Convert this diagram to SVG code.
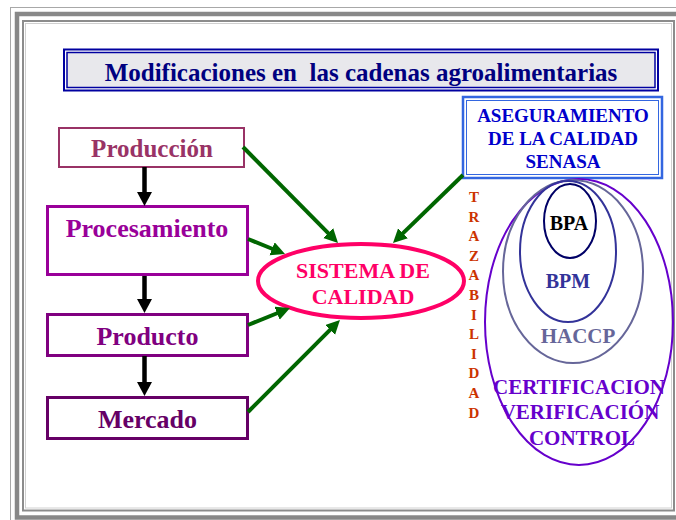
<svg xmlns="http://www.w3.org/2000/svg" width="676" height="520" viewBox="0 0 676 520">
<style>
  text { font-family: "Liberation Serif", "Times New Roman", serif; font-weight: bold; text-anchor: middle; }
  .box { fill: #ffffff; }
  .green { stroke: #006600; stroke-width: 4; fill: none; marker-end: url(#gh); }
  .black { stroke: #000000; stroke-width: 4.5; fill: none; }
  .traz { fill: #CC3300; font-size: 15px; }
</style>
<defs>
  <marker id="gh" markerUnits="userSpaceOnUse" markerWidth="16" markerHeight="16" refX="6" refY="7" orient="auto">
    <path d="M0,0 L14,7 L0,14 z" fill="#006600"/>
  </marker>
</defs>
<rect width="676" height="520" fill="#ffffff"/>
<g id="frame" fill="none">
  <rect x="10.5" y="7.5" width="700" height="600" stroke="#a8a8a8" stroke-width="1"/>
  <rect x="17" y="14" width="700" height="503.5" stroke="#888888" stroke-width="4.5"/>
  <rect x="23" y="21" width="651" height="489.5" stroke="#8c8c8c" stroke-width="2"/>
  <rect x="25.5" y="23.5" width="646" height="484.5" stroke="#d0d0d0" stroke-width="1"/>
</g>
<g id="title">
  <rect x="64" y="49.5" width="594" height="41" fill="#ffffff" stroke="#0000A0" stroke-width="2"/>
  <rect x="67" y="52.5" width="588" height="35" fill="#E8E8EC" stroke="#0000A0" stroke-width="1.5"/>
  <text x="361" y="81" font-size="25" fill="#000080">Modificaciones en&#160; las cadenas agroalimentarias</text>
</g>
<g id="produccion">
  <rect class="box" x="59" y="128" width="185" height="39" stroke="#993366" stroke-width="2"/>
  <text x="152" y="157" font-size="25" fill="#993366">Producción</text>
</g>
<g id="procesamiento">
  <rect class="box" x="47.5" y="206.5" width="200" height="68" stroke="#990099" stroke-width="3"/>
  <text x="147" y="237" font-size="26" fill="#990099">Procesamiento</text>
</g>
<g id="producto">
  <rect class="box" x="47.5" y="314.5" width="200" height="41" stroke="#800080" stroke-width="3"/>
  <text x="147.5" y="345" font-size="26" fill="#800080">Producto</text>
</g>
<g id="mercado">
  <rect class="box" x="47.5" y="397.5" width="200" height="41" stroke="#660066" stroke-width="3"/>
  <text x="147.5" y="428" font-size="26" fill="#660066">Mercado</text>
</g>
<g id="sistema">
  <ellipse cx="361" cy="281" rx="103" ry="37" fill="#ffffff" stroke="#FF0066" stroke-width="4"/>
  <text x="363" y="278" font-size="22" fill="#FF0066">SISTEMA DE</text>
  <text x="363" y="304" font-size="22" fill="#FF0066">CALIDAD</text>
</g>
<g id="aseguramiento">
  <rect x="463" y="97" width="199" height="81" fill="#ffffff" stroke="#3366E0" stroke-width="2.5"/>
  <rect x="466.5" y="100.5" width="192" height="74" fill="none" stroke="#3366E0" stroke-width="1"/>
  <text x="563" y="122" font-size="19" fill="#0000CC">ASEGURAMIENTO</text>
  <text x="563" y="145" font-size="19" fill="#0000CC">DE LA CALIDAD</text>
  <text x="563" y="168" font-size="19" fill="#0000CC">SENASA</text>
</g>
<g id="trazabilidad">
  <text class="traz" x="474" y="202">T</text>
  <text class="traz" x="474" y="221.6">R</text>
  <text class="traz" x="474" y="241.2">A</text>
  <text class="traz" x="474" y="260.8">Z</text>
  <text class="traz" x="474" y="280.4">A</text>
  <text class="traz" x="474" y="300">B</text>
  <text class="traz" x="474" y="319.6">I</text>
  <text class="traz" x="474" y="339.2">L</text>
  <text class="traz" x="474" y="358.8">I</text>
  <text class="traz" x="474" y="378.4">D</text>
  <text class="traz" x="474" y="398">A</text>
  <text class="traz" x="474" y="417.6">D</text>
</g>
<g id="certificacion">
  <ellipse cx="579" cy="322" rx="94" ry="143" fill="none" stroke="#6600CC" stroke-width="2"/>
  <text x="579" y="394" font-size="21" fill="#6600CC">CERTIFICACION</text>
  <text x="580" y="419" font-size="21" fill="#6600CC">VERIFICACIÓN</text>
  <text x="582" y="445" font-size="21" fill="#6600CC">CONTROL</text>
</g>
<g id="haccp">
  <ellipse cx="573" cy="271.5" rx="70" ry="91.5" fill="none" stroke="#666699" stroke-width="2"/>
  <text x="578" y="343" font-size="21" fill="#666699">HACCP</text>
</g>
<g id="bpm">
  <ellipse cx="568" cy="251.5" rx="48" ry="70.5" fill="none" stroke="#333399" stroke-width="2"/>
  <text x="568" y="288" font-size="20" fill="#333399">BPM</text>
</g>
<g id="bpa">
  <ellipse cx="570" cy="221" rx="26" ry="37" fill="#ffffff" stroke="#000066" stroke-width="2"/>
  <text x="569" y="230" font-size="20" fill="#000000">BPA</text>
</g>
<g id="connectors">
  <line class="black" x1="144.5" y1="167" x2="144.5" y2="193"/>
  <polygon points="137,192 152,192 144.5,206" fill="#000000"/>
  <line class="black" x1="144.5" y1="276" x2="144.5" y2="300"/>
  <polygon points="137,299 152,299 144.5,313" fill="#000000"/>
  <line class="black" x1="144.5" y1="356" x2="144.5" y2="383"/>
  <polygon points="137,382 152,382 144.5,396" fill="#000000"/>
  <line class="green" x1="243" y1="147" x2="332.4" y2="237.3"/>
  <line class="green" x1="248" y1="239" x2="277.6" y2="251"/>
  <line class="green" x1="248" y1="325" x2="282.6" y2="311"/>
  <line class="green" x1="248" y1="412" x2="334.3" y2="325.7"/>
  <line class="green" x1="463" y1="175" x2="398.7" y2="237.4"/>
</g>
</svg>
